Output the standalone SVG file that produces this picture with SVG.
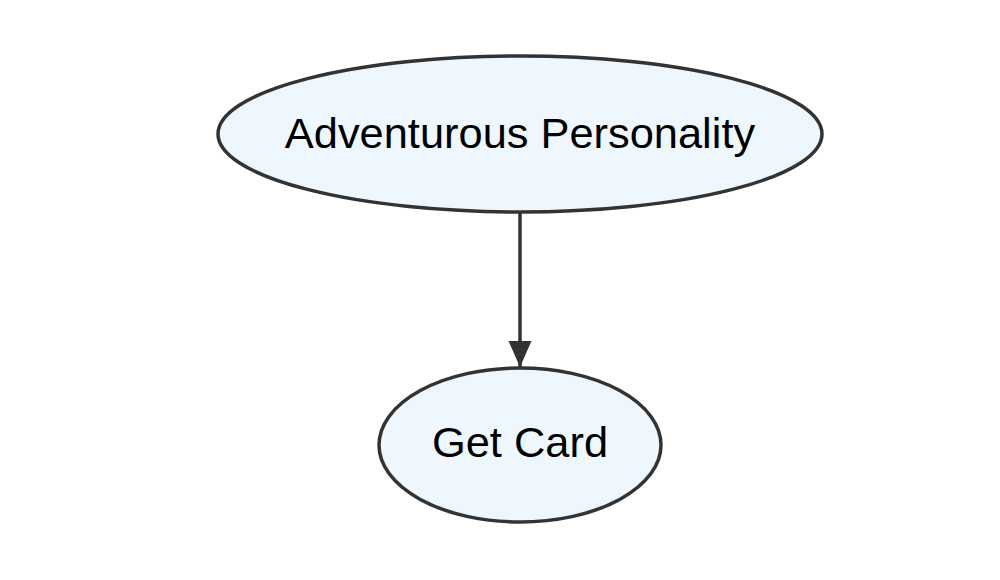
<svg xmlns="http://www.w3.org/2000/svg" width="1000" height="580" viewBox="0 0 1000 580">
<style>
.node ellipse{fill:#eff7fe;stroke:#333333;stroke-width:3.5}
.node text{font-family:"Liberation Sans",Arial,sans-serif;font-size:43.4px;fill:#000000;text-anchor:middle}
.edge{stroke:#333333;stroke-width:3.5;fill:none}
</style>
<defs>
<marker id="arrow" markerUnits="userSpaceOnUse" markerWidth="28" markerHeight="24" refX="26" refY="11.5" orient="auto">
<path d="M0,0 L26,11.5 L0,23 Z" fill="#333333"/>
</marker>
</defs>
<rect width="1000" height="580" fill="#ffffff"/>
<g id="connectors">
<line class="edge" x1="520" y1="212" x2="520" y2="367" marker-end="url(#arrow)"/>
</g>
<g id="adventurous" class="node">
<ellipse cx="520" cy="134" rx="302" ry="78"/>
<text x="520" y="148">Adventurous Personality</text>
</g>
<g id="getcard" class="node">
<ellipse cx="520" cy="445" rx="141" ry="77"/>
<text x="520" y="457">Get Card</text>
</g>
</svg>
